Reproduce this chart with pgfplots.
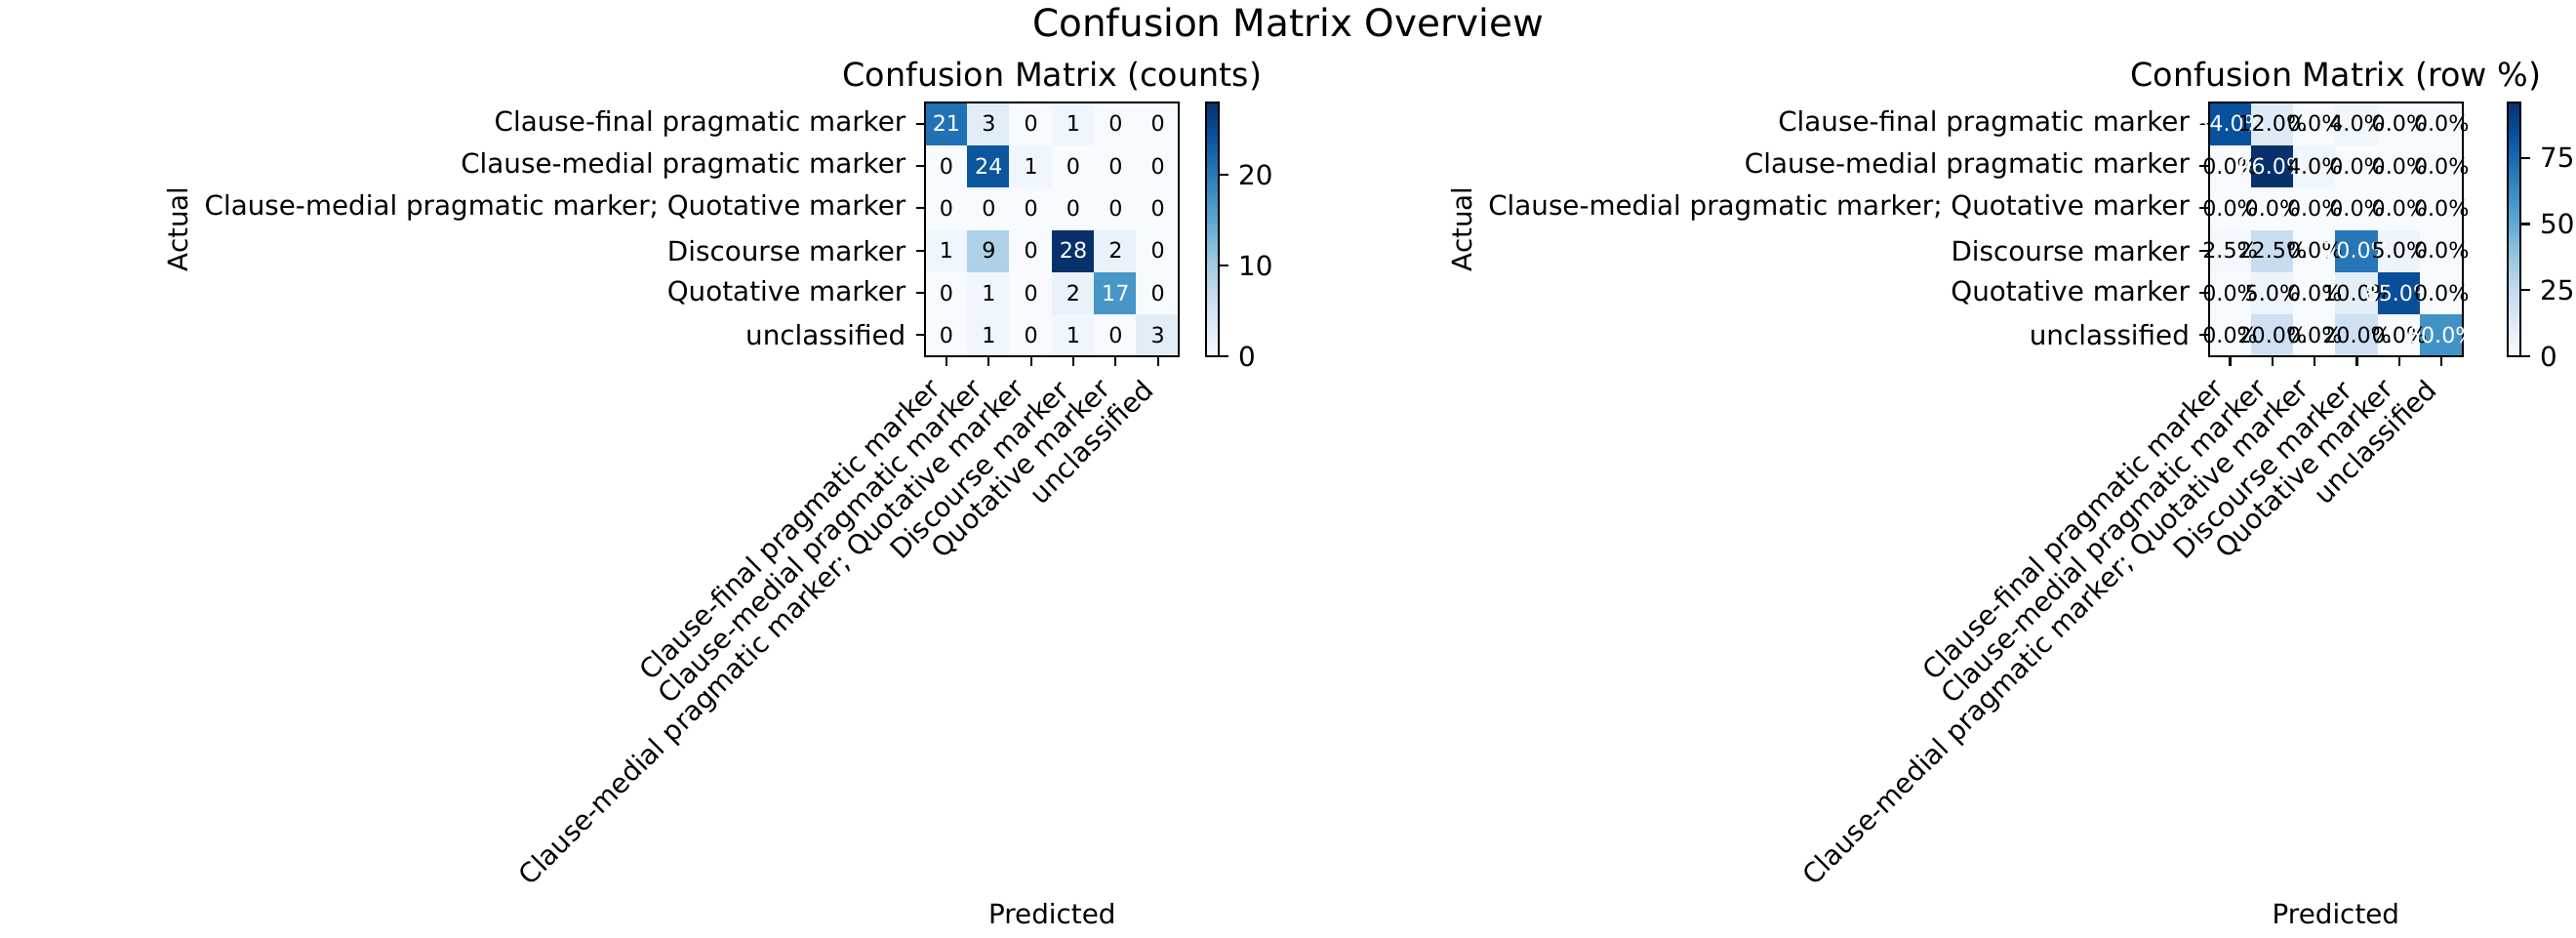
\documentclass[border=0pt]{standalone}
\usepackage{fontspec}
\setmainfont{DejaVu Sans}
\usepackage{pgfplots}
\usepackage{pgfplotstable}
\pgfplotsset{compat=1.18}

\pgfplotstableread{
x y c
0 0 0
1 0 1
2 0 0
3 0 1
4 0 0
5 0 3
0 1 0
1 1 1
2 1 0
3 1 2
4 1 17
5 1 0
0 2 1
1 2 9
2 2 0
3 2 28
4 2 2
5 2 0
0 3 0
1 3 0
2 3 0
3 3 0
4 3 0
5 3 0
0 4 0
1 4 24
2 4 1
3 4 0
4 4 0
5 4 0
0 5 21
1 5 3
2 5 0
3 5 1
4 5 0
5 5 0
}\countdata

\pgfplotstableread{
x y c
0 0 0.0
1 0 20.0
2 0 0.0
3 0 20.0
4 0 0.0
5 0 60.0
0 1 0.0
1 1 5.0
2 1 0.0
3 1 10.0
4 1 85.0
5 1 0.0
0 2 2.5
1 2 22.5
2 2 0.0
3 2 70.0
4 2 5.0
5 2 0.0
0 3 0.0
1 3 0.0
2 3 0.0
3 3 0.0
4 3 0.0
5 3 0.0
0 4 0.0
1 4 96.0
2 4 4.0
3 4 0.0
4 4 0.0
5 4 0.0
0 5 84.0
1 5 12.0
2 5 0.0
3 5 4.0
4 5 0.0
5 5 0.0
}\pctdata

\newcommand\ften{\fontsize{10}{12}\selectfont}
\newcommand\feight{\fontsize{8}{9.6}\selectfont}

\pgfplotsset{
  /pgf/number format/assume math mode=true,
  cmbase/.style={
    scale only axis, width=93.6pt, height=93.6pt,
    xmin=-0.5, xmax=5.5, ymin=-0.5, ymax=5.5,
    xtick={0,...,5}, ytick={0,...,5},
    xtick pos=left, ytick pos=left,
    tick align=outside, major tick length=3.5pt,
    tick style={black, line width=0.8pt},
    axis line style={black, line width=0.8pt},
    xticklabels={Clause-final pragmatic marker, Clause-medial pragmatic marker, Clause-medial pragmatic marker; Quotative marker, Discourse marker, Quotative marker, unclassified},
    yticklabels={unclassified, Quotative marker, Discourse marker, Clause-medial pragmatic marker; Quotative marker, Clause-medial pragmatic marker, Clause-final pragmatic marker},
    ticklabel style={font=\ften, inner sep=0pt},
    xticklabel style={xshift=-3.54pt, yshift=-3.54pt, rotate=45, anchor=east},
    yticklabel style={anchor=east},
    xticklabel shift=3.5pt, yticklabel shift=3.5pt,
    colormap={blues}{rgb255=(247,251,255) rgb255=(222,235,247) rgb255=(198,219,239) rgb255=(158,202,225) rgb255=(107,174,214) rgb255=(66,146,198) rgb255=(33,113,181) rgb255=(8,81,156) rgb255=(8,48,107)},
    axis on top, clip=false,
    title style={font=\fontsize{12}{14}\selectfont, at={(axis description cs:0.5,1)}, anchor=base},
    xlabel style={font=\ften, at={(axis description cs:0.5,-2.2350)}, anchor=base},
    ylabel style={font=\ften, at={(axis description cs:-2.9466,0.5)}, anchor=center},
    xlabel={Predicted}, ylabel={Actual},
    colorbar,
    colorbar shift/.style={xshift=0pt},
  },
  cbbase/.style={
    at={(parent axis.north east)}, anchor=north west,
    scale only axis, width=4.7pt, height=93.6pt,
    title={}, xlabel={}, ylabel={},
    xtick=\empty,
    tick align=outside, major tick length=3.5pt,
    ytick pos=right, yticklabel pos=right,
    tick style={black, line width=0.8pt},
    axis line style={black, line width=0.8pt},
    yticklabel style={font=\ften, inner sep=0pt, anchor=west},
    yticklabel shift=3.5pt,
  }
}

\begin{document}
\begin{tikzpicture}
\begin{axis}[cmbase,
  at={(341.4pt,214.2pt)}, anchor=south west,
  title={Confusion Matrix (counts)},
  point meta min=0, point meta max=28,
  colorbar style={cbbase, xshift=10pt, ytick={0,10,20}, yticklabels={0,10,20}},
]
\addplot[matrix plot*, mesh/cols=6, point meta=explicit] table[x=x, y=y, meta=c] {\countdata};
\addplot[only marks, mark=none, point meta=explicit,
  nodes near coords={\ifdim\pgfplotspointmetatransformed pt>500pt\color{white}\fi\pgfmathprintnumber{\pgfplotspointmeta}},
  every node near coord/.append style={font=\feight, inner sep=0pt, anchor=center}]
  table[x=x, y=y, meta=c] {\countdata};
\end{axis}

\begin{axis}[cmbase,
  at={(815.0pt,214.2pt)}, anchor=south west,
  title={Confusion Matrix (row \%)},
  point meta min=0, point meta max=96,
  colorbar style={cbbase, xshift=16.6pt, ytick={0,25,50,75}, yticklabels={0,25,50,75}},
]
\addplot[matrix plot*, mesh/cols=6, point meta=explicit] table[x=x, y=y, meta=c] {\pctdata};
\addplot[only marks, mark=none, point meta=explicit,
  nodes near coords={\ifdim\pgfplotspointmetatransformed pt>500pt\color{white}\fi\pgfmathprintnumber[fixed, fixed zerofill, precision=1]{\pgfplotspointmeta}\%},
  every node near coord/.append style={font=\feight, inner sep=0pt, anchor=center}]
  table[x=x, y=y, meta=c] {\pctdata};
\end{axis}

\node[anchor=base, font=\fontsize{14}{17}\selectfont] at (475.2pt,332.0pt) {Confusion Matrix Overview};

\pgfresetboundingbox
\useasboundingbox (0,0) rectangle (950.4pt,345.6pt);
\end{tikzpicture}
\end{document}
